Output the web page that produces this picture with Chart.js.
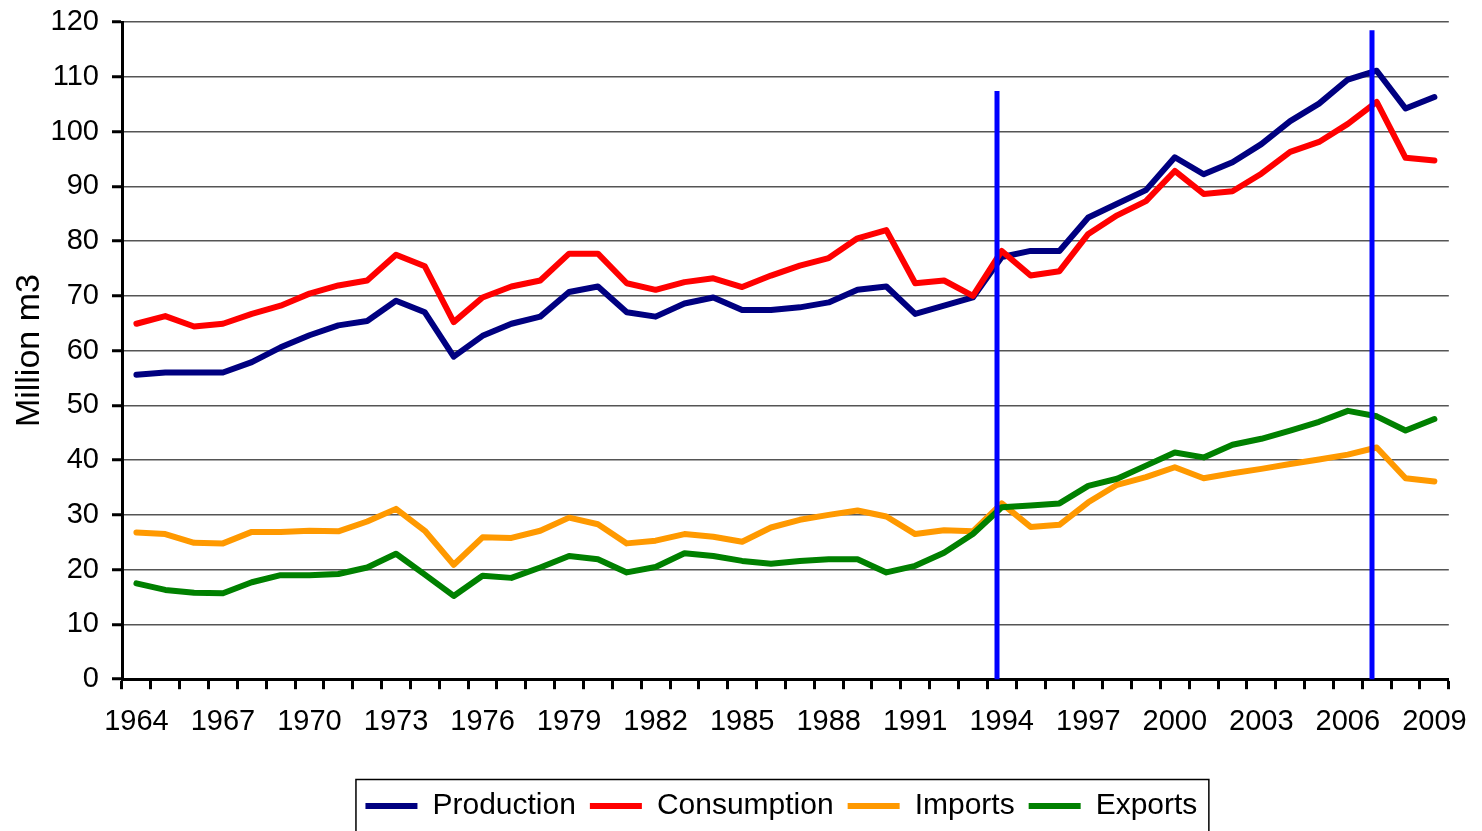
<!DOCTYPE html>
<html>
<head>
<meta charset="utf-8">
<script src="https://cdn.jsdelivr.net/npm/chart.js@4/dist/chart.umd.min.js"></script>
<style>
  html, body { margin: 0; padding: 0; background: #fff; }
</style>
</head>
<body>
<canvas id="canvas" width="1482" height="831"></canvas>
<script>
const years = ['1964', '1965', '1966', '1967', '1968', '1969', '1970', '1971', '1972', '1973',
  '1974', '1975', '1976', '1977', '1978', '1979', '1980', '1981', '1982', '1983',
  '1984', '1985', '1986', '1987', '1988', '1989', '1990', '1991', '1992', '1993',
  '1994', '1995', '1996', '1997', '1998', '1999', '2000', '2001', '2002', '2003',
  '2004', '2005', '2006', '2007', '2008', '2009'];

const production = [55.6, 56.0, 56.0, 56.0, 57.9, 60.6, 62.8, 64.6, 65.4, 69.1,
  67.0, 58.9, 62.7, 64.9, 66.2, 70.7, 71.7, 67.0, 66.2, 68.6,
  69.7, 67.4, 67.4, 67.9, 68.8, 71.1, 71.7, 66.7, 68.2, 69.7,
  77.1, 78.2, 78.2, 84.3, 86.8, 89.3, 95.3, 92.2, 94.4, 97.7,
  101.9, 105.1, 109.5, 111.1, 104.2, 106.3];

const consumption = [64.9, 66.3, 64.4, 64.9, 66.7, 68.2, 70.4, 71.9, 72.8, 77.5,
  75.4, 65.2, 69.7, 71.7, 72.8, 77.7, 77.7, 72.3, 71.1, 72.5,
  73.2, 71.6, 73.7, 75.5, 76.9, 80.5, 82.0, 72.3, 72.8, 70.0,
  78.2, 73.7, 74.5, 81.3, 84.7, 87.3, 92.8, 88.6, 89.1, 92.3,
  96.3, 98.1, 101.4, 105.4, 95.2, 94.7];

const imports = [26.8, 26.5, 24.9, 24.8, 26.9, 26.9, 27.1, 27.0, 28.8, 31.1,
  27.1, 20.9, 25.9, 25.8, 27.1, 29.5, 28.3, 24.8, 25.3, 26.5,
  26.0, 25.1, 27.7, 29.1, 30.0, 30.8, 29.7, 26.5, 27.2, 27.0,
  32.1, 27.8, 28.2, 32.3, 35.5, 36.9, 38.7, 36.7, 37.6, 38.4,
  39.3, 40.1, 41.0, 42.3, 36.7, 36.1];

const exports = [17.5, 16.3, 15.8, 15.7, 17.7, 19.0, 19.0, 19.2, 20.4, 22.9,
  19.1, 15.2, 18.9, 18.5, 20.4, 22.5, 21.9, 19.5, 20.5, 23.0,
  22.5, 21.6, 21.1, 21.6, 21.9, 21.9, 19.5, 20.7, 23.1, 26.5,
  31.4, 31.7, 32.1, 35.3, 36.6, 39.0, 41.4, 40.5, 42.8, 43.9,
  45.4, 47.0, 49.0, 48.0, 45.4, 47.5];

// vertical blue marker lines: year and how high they reach
const markerYears = ['1994', '2007'];
const markerTops = [107.4, 118.5];

const fontFamily = "'Liberation Sans', Arial, sans-serif";

// blue vertical lines drawn on top of the series
const markerLines = {
  id: 'markerLines',
  afterDatasetsDraw(chart) {
    const { ctx, scales: { x, y } } = chart;
    ctx.save();
    ctx.strokeStyle = '#0000FF';
    ctx.lineWidth = 5;
    markerYears.forEach((yr, i) => {
      const px = Math.round(x.getPixelForValue(years.indexOf(yr) - 0.15));
      ctx.beginPath();
      ctx.moveTo(px, y.getPixelForValue(0));
      ctx.lineTo(px, y.getPixelForValue(markerTops[i]));
      ctx.stroke();
    });
    ctx.restore();
  }
};

// center legend under the plot area and put a frame round it
const legendFrame = {
  id: 'legendFrame',
  afterLayout(chart) {
    const lg = chart.legend;
    const area = chart.chartArea;
    const d = (area.left + area.right) / 2 - (lg.left + lg.right) / 2 - 4;
    lg.left += d;
    lg.right += d;
  },
  afterDraw(chart) {
    const boxes = chart.legend.legendHitBoxes;
    if (!boxes || !boxes.length) return;
    const left = Math.min(...boxes.map(b => b.left)) - 10;
    const right = Math.max(...boxes.map(b => b.left + b.width)) + 11;
    const top = boxes[0].top - 12;
    const ctx = chart.ctx;
    ctx.save();
    ctx.strokeStyle = '#000';
    ctx.lineWidth = 1.5;
    ctx.strokeRect(left + 0.5, top + 0.5, right - left, 100);
    ctx.restore();
  }
};

const makeSeries = (label, data, color, order) => ({
  label: label,
  data: data,
  borderColor: color,
  backgroundColor: color,
  borderWidth: 6,
  borderJoinStyle: 'round',
  borderCapStyle: 'round',
  pointRadius: 0,
  pointHoverRadius: 0,
  tension: 0,
  fill: false,
  order: order
});

const ctx = document.getElementById('canvas').getContext('2d');
const chart = new Chart(ctx, {
  type: 'line',
  data: {
    labels: years,
    datasets: [
      makeSeries('Production', production, '#000080', 3),
      makeSeries('Consumption', consumption, '#FF0000', 2),
      makeSeries('Imports', imports, '#FF9900', 1),
      makeSeries('Exports', exports, '#008000', 0)
    ]
  },
  options: {
    responsive: false,
    animation: false,
    devicePixelRatio: 1,
    layout: { padding: { left: 9, right: 32, top: 22, bottom: 0 } },
    scales: {
      x: {
        offset: true,
        afterFit: (scale) => { scale.height += 23; },
        grid: {
          offset: true,
          drawOnChartArea: false,
          drawTicks: true,
          tickLength: 10,
          tickColor: '#000',
          tickWidth: 3
        },
        border: { color: '#000', width: 3 },
        ticks: {
          autoSkip: false,
          maxRotation: 0,
          minRotation: 0,
          padding: 15,
          color: '#000',
          font: { family: fontFamily, size: 29 },
          callback: function (value, index) {
            return index % 3 === 0 ? this.getLabelForValue(value) : '';
          }
        }
      },
      y: {
        min: 0,
        max: 120,
        afterFit: (scale) => {
          scale.width = 113;
          scale.paddingTop = 0;
        },
        ticks: {
          stepSize: 10,
          padding: 13,
          color: '#000',
          font: { family: fontFamily, size: 29 }
        },
        grid: {
          color: '#555',
          lineWidth: 1.5,
          tickColor: '#000',
          tickWidth: 3,
          tickLength: 10
        },
        border: { color: '#000', width: 3 },
        title: {
          display: true,
          text: 'Million m3',
          color: '#000',
          padding: 0,
          font: { family: fontFamily, size: 34 }
        }
      }
    },
    plugins: {
      tooltip: { enabled: false },
      legend: {
        position: 'bottom',
        labels: {
          boxWidth: 52,
          boxHeight: 6,
          padding: 14,
          color: '#000',
          font: { family: fontFamily, size: 30 },
          generateLabels: (c) => c.data.datasets.map((ds, i) => ({
            text: ds.label,
            fillStyle: ds.borderColor,
            strokeStyle: ds.borderColor,
            lineWidth: 0,
            hidden: false,
            datasetIndex: i
          }))
        }
      }
    }
  },
  plugins: [markerLines, legendFrame]
});
</script>
</body>
</html>
